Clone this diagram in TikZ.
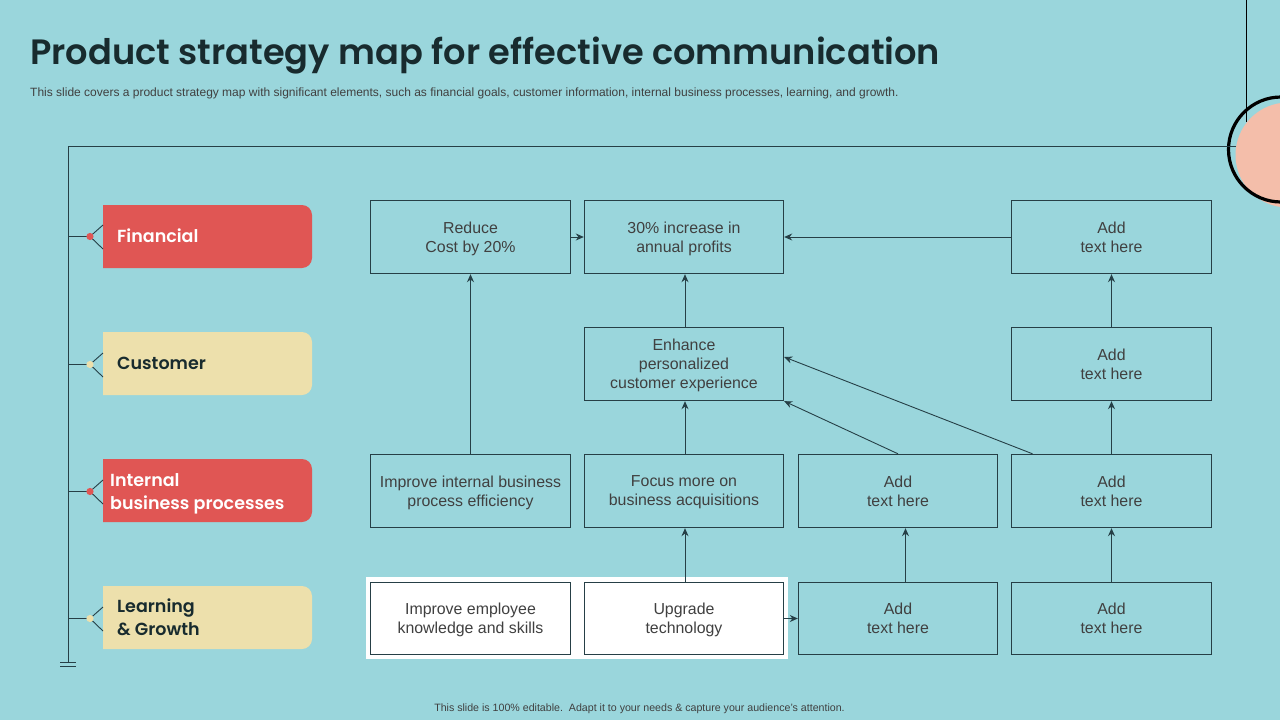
\documentclass[tikz,border=0pt]{standalone}
\usepackage{fontspec}
\setmainfont{Liberation Sans}
\newfontfamily\headfont{Poppins SemiBold}
\usetikzlibrary{arrows.meta}
\definecolor{bgc}{HTML}{9AD6DC}
\definecolor{redc}{HTML}{E05654}
\definecolor{yelc}{HTML}{EDE0AC}
\definecolor{pinkc}{HTML}{F4BEAA}
\definecolor{linec}{HTML}{263F46}
\definecolor{boxtxt}{HTML}{404040}
\definecolor{headc}{HTML}{182B2E}
\tikzset{
  mapbox/.style={draw=linec,line width=0.9pt,minimum width=#1,minimum height=73.5pt,inner sep=0pt,align=center,text=boxtxt,font=\fontsize{15.9}{19}\selectfont,text depth=0pt},
  whitebox/.style={mapbox=#1,fill=white},
  arr/.style={draw=linec,line width=0.9pt,-{Stealth[length=8pt,width=7pt]}},
  lbl/.style={anchor=west,align=left,inner sep=0pt,font=\headfont\fontsize{17.5}{23}\selectfont},
  thin line/.style={draw=linec,line width=0.9pt},
}
\newcommand{\tabshape}[3]{\fill[#1] (103,#2) [rounded corners=10pt] -- (312,#2) -- (312,#3) [sharp corners] -- (103,#3) -- cycle;}
\begin{document}
\begin{tikzpicture}[x=1pt,y=-1pt]
\useasboundingbox (0,0) rectangle (1280,720);
\fill[bgc] (0,0) rectangle (1280,720);
\begin{scope}
\clip (0,0) rectangle (1280,720);
\fill[pinkc] (1288,155) circle (52.5);
\draw[black,line width=3.2pt] (1281,149.5) circle (52.5);
\end{scope}
\coordinate (ctop) at (1246.5,0);
\coordinate (cbot) at (1246.5,122);
\draw[black,line width=1pt] (ctop) -- (cbot);
\coordinate (hr) at (1236,146.5);
\coordinate (tl) at (68.5,146.5);
\coordinate (bl) at (68.5,662);
\draw[thin line] (hr) -- (tl) -- (bl);
\coordinate (g1a) at (60,662.5);\coordinate (g1b) at (76,662.5);
\coordinate (g2a) at (60,666.5);\coordinate (g2b) at (76,666.5);
\draw[thin line] (g1a) -- (g1b) (g2a) -- (g2b);
\node[anchor=base west,inner sep=0pt,text=headc] (title) at (30,64.5) {\headfont\fontsize{35.2}{40}\selectfont Product strategy map for effective communication};
\node[anchor=base west,inner sep=0pt,text=boxtxt] (sub) at (30,96.5) {\fontsize{12}{14}\selectfont This slide covers a product strategy map with significant elements, such as financial goals, customer information, internal business processes, learning, and growth.};
\node[anchor=base,inner sep=0pt,text=boxtxt] (foot) at (639.5,711.5) {\fontsize{10.63}{13}\selectfont This slide is 100\% editable.\ \ Adapt it to your needs \& capture your audience’s attention.};
% category tabs
\tabshape{redc}{205}{268}
\tabshape{yelc}{332}{395}
\tabshape{redc}{459}{522}
\tabshape{yelc}{586}{649}
\node[lbl,text=white] (fin) at (117,236) {Financial};
\node[lbl,text=headc] (cus) at (117,363.5) {Customer};
\node[lbl,text=white] (int) at (110,493.5) {Internal\\business processes};
\node[lbl,text=headc] (lea) at (117,617.5) {Learning\\\& Growth};
\foreach \y/\c/\n in {236.5/redc/a,364.5/yelc/b,491.5/redc/c,618.5/yelc/d}{
  \coordinate (\n0) at (68.5,\y);
  \coordinate (\n1) at (90,\y);
  \coordinate (\n2) at (103,\y-11.5);
  \coordinate (\n3) at (103,\y+12.5);
  \draw[thin line] (\n0) -- (\n1) (\n2) -- (\n1) -- (\n3);
  \fill[\c] (\n1) circle (3.6);
}
% white panel
\fill[white] (366,577) rectangle (788,659);
% boxes
\node[mapbox=200pt] (r1c1) at (470.5,237) {Reduce\\Cost by 20\%};
\node[mapbox=199.5pt] (r1c2) at (684,237) {30\% increase in\\annual profits};
\node[mapbox=200pt] (r1c4) at (1111.5,237) {Add\\text here};
\node[mapbox=199.5pt] (r2c2) at (684,364) {Enhance\\personalized\\customer experience};
\node[mapbox=200pt] (r2c4) at (1111.5,364) {Add\\text here};
\node[mapbox=200pt] (r3c1) at (470.5,491) {Improve internal business\\process efficiency};
\node[mapbox=199.5pt] (r3c2) at (684,491) {Focus more on\\business acquisitions};
\node[mapbox=199.5pt] (r3c3) at (898,491) {Add\\text here};
\node[mapbox=200pt] (r3c4) at (1111.5,491) {Add\\text here};
\node[whitebox=200pt,minimum height=72.5pt] (r4c1) at (470.5,618.5) {Improve employee\\knowledge and skills};
\node[whitebox=199.5pt,minimum height=72.5pt] (r4c2) at (684,618.5) {Upgrade\\technology};
\node[mapbox=199.5pt,minimum height=72.5pt] (r4c3) at (898,618.5) {Add\\text here};
\node[mapbox=200pt,minimum height=72.5pt] (r4c4) at (1111.5,618.5) {Add\\text here};
% connectors
\draw[arr] (r1c1.east) -- (r1c2.west);
\draw[arr] (r1c4.west) -- (r1c2.east);
\draw[arr] (r3c1.north) -- (r1c1.south);
\draw[arr] ([xshift=1pt]r2c2.north) -- ([xshift=1pt]r1c2.south);
\draw[arr] (r2c4.north) -- (r1c4.south);
\draw[arr] ([xshift=1pt]r3c2.north) -- ([xshift=1pt]r2c2.south);
\draw[arr] (r3c4.north) -- (r2c4.south);
\draw[arr] (r3c3.north) -- (r2c2.south east);
\draw[arr] ([xshift=-79pt]r3c4.north) -- ([yshift=7pt]r2c2.east);
\draw[arr] ([xshift=1pt]r4c2.north) -- ([xshift=1pt]r3c2.south);
\draw[arr] ([xshift=7.5pt]r4c3.north) -- ([xshift=7.5pt]r3c3.south);
\draw[arr] (r4c4.north) -- (r3c4.south);
\draw[arr] (r4c2.east) -- (r4c3.west);
\end{tikzpicture}
\end{document}
